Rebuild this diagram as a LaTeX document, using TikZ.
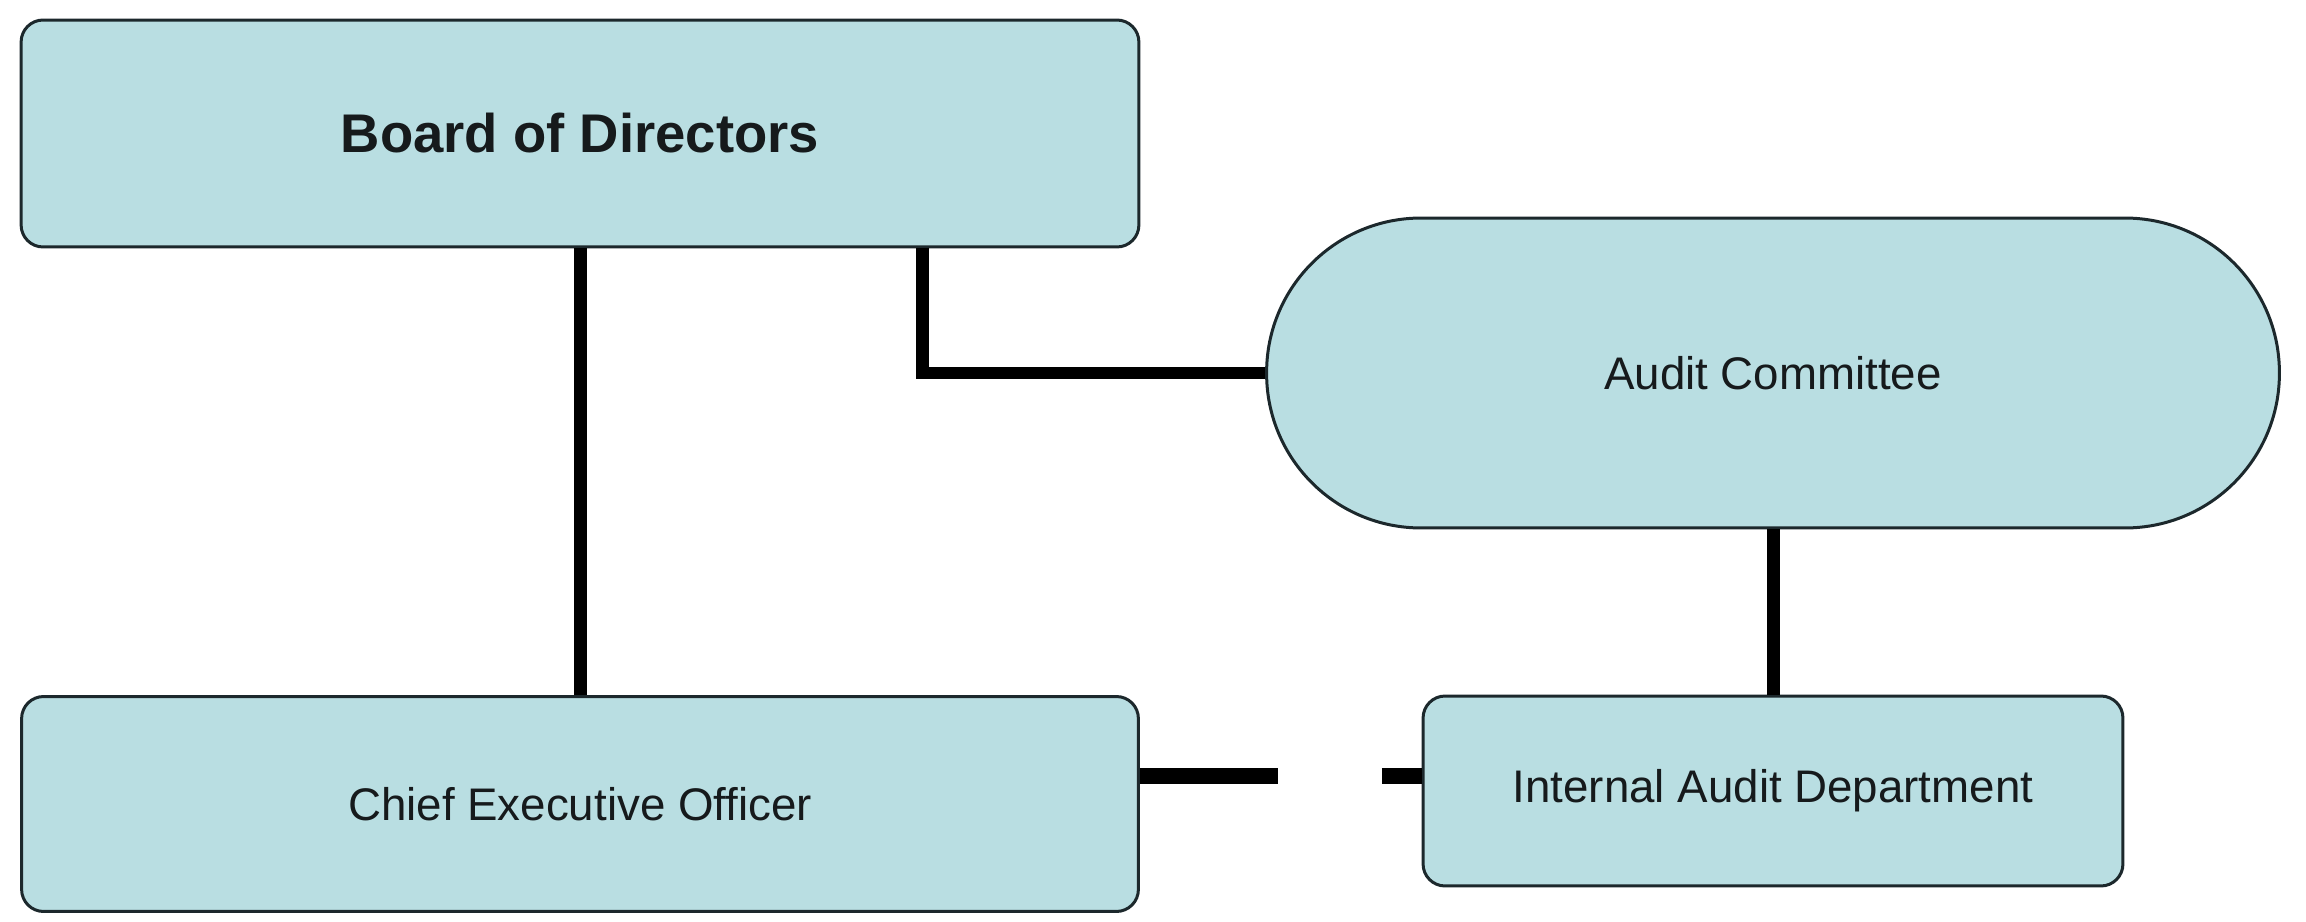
\documentclass[tikz,border=0pt]{standalone}
\usepackage{fontspec}
\setmainfont{Liberation Sans}
\usetikzlibrary{calc}
\definecolor{boxfill}{RGB}{185,222,226}
\definecolor{boxline}{RGB}{28,40,44}
\definecolor{labeltext}{RGB}{22,26,28}
\begin{document}
\begin{tikzpicture}[x=0.02cm,y=-0.02cm,
  unit box/.style={draw=boxline, fill=boxfill, line width=0.06cm,
    rounded corners=0.44cm, inner sep=0pt, text=labeltext,
    font=\fontsize{26}{31}\selectfont},
  committee/.style={unit box, rounded corners=3.09cm},
  link/.style={line width=0.26cm, black},
  broken link/.style={line width=0.32cm, black,
    dash pattern=on 2.76cm off 2.08cm on 0.84cm}]
  \useasboundingbox (0,0) rectangle (2306,922);

  % organisation units
  \node[unit box, minimum width=22.36cm, minimum height=4.54cm,
        font=\fontsize{31}{37}\selectfont\bfseries]
        (board) at (580,133.5) {Board of Directors};
  \node[committee, minimum width=20.26cm, minimum height=6.2cm]
        (audit) at (1773,373) {Audit Committee};
  \node[unit box, minimum width=22.34cm, minimum height=4.3cm]
        (ceo) at (580,804) {Chief Executive Officer};
  \node[unit box, minimum width=14cm, minimum height=3.8cm]
        (iad) at (1773,791) {Internal Audit Department};

  % reporting lines
  \coordinate (bend) at (922,374);
  \coordinate (side) at (1300,776);
  \draw[link] (board.south) -- (board.south |- ceo.north);
  \draw[link] (board.south -| bend) |- (audit.west);
  \draw[link] (audit.south) -- (audit.south |- iad.north);
  \draw[broken link] (ceo.east |- side) -- (iad.west |- side);
\end{tikzpicture}
\end{document}
